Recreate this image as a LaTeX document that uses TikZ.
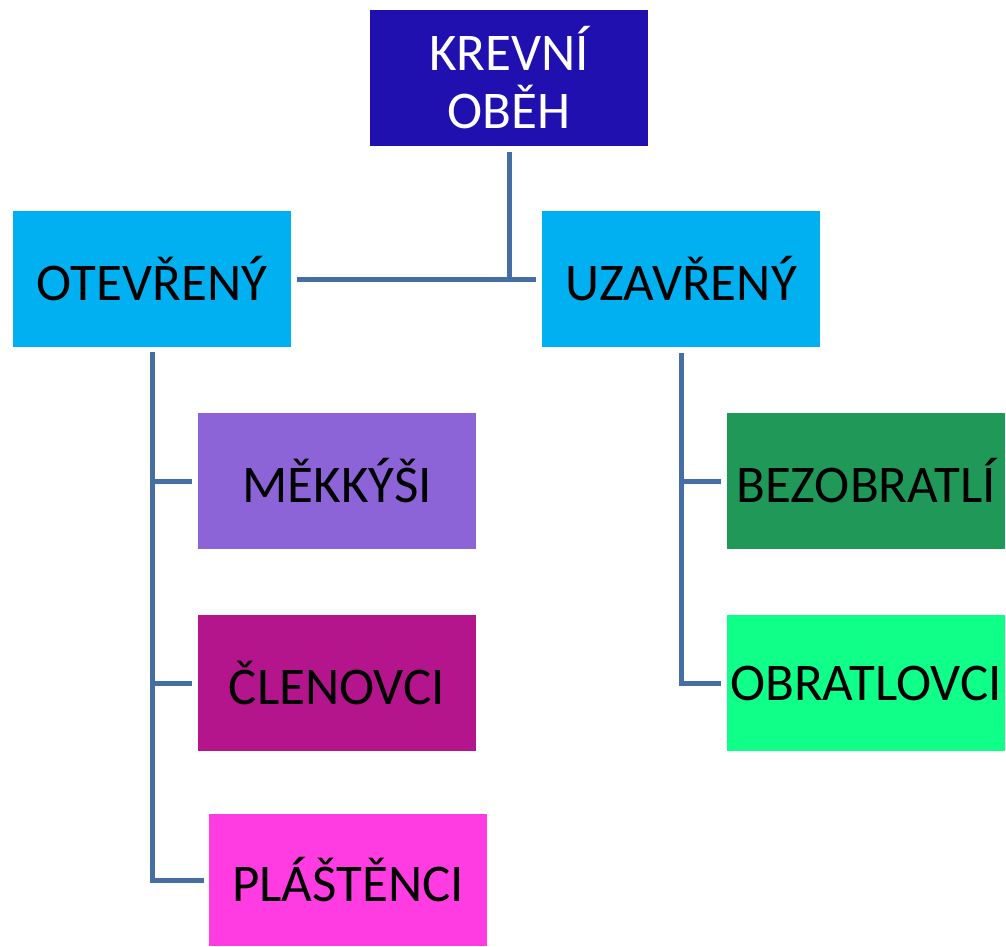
\documentclass[tikz,border=0pt]{standalone}
\usepackage{fontspec}
\setmainfont{Carlito}
\usetikzlibrary{positioning}
\definecolor{krevblue}{RGB}{32,16,176}
\definecolor{typecyan}{RGB}{0,176,240}
\definecolor{mekkviolet}{RGB}{140,100,216}
\definecolor{clenmagenta}{RGB}{180,20,140}
\definecolor{plastpink}{RGB}{255,60,225}
\definecolor{bezgreen}{RGB}{32,152,88}
\definecolor{obrgreen}{RGB}{16,255,136}
\definecolor{linkblue}{RGB}{68,110,164}

\begin{document}
\begin{tikzpicture}[x=1pt,y=-1pt,
    box/.style={minimum width=278pt,minimum height=136pt,inner sep=0pt,
        align=center,font=\fontsize{53}{58}\selectfont},
    link/.style={draw=linkblue,line width=5pt}]
    \useasboundingbox (0,0) rectangle (1006,946);

    % Top box
    \node[box,fill=krevblue,text=white] (krevni) at (509,78) {KREVNÍ\\OBĚH};

    % Two kinds
    \node[box,fill=typecyan] (otevreny) at (152,279) {OTEVŘENÝ};
    \node[box,fill=typecyan] (uzavreny) at (681,279) {UZAVŘENÝ};

    % Open circulation
    \node[box,fill=mekkviolet] (mekkysi) at (337,481) {MĚKKÝŠI};
    \node[box,fill=clenmagenta] (clenovci) at (337,683) {ČLENOVCI};
    \node[box,fill=plastpink,minimum height=132pt] (plastenci) at (348,880) {PLÁŠTĚNCI};

    % Closed circulation
    \node[box,fill=bezgreen] (bezobratli) at (866,481) {BEZOBRATLÍ};
    \node[box,fill=obrgreen] (obratlovci) at (866,683) {OBRATLOVCI};

    % Connectors
    \draw[link] ([yshift=-6pt]krevni.south) -- (krevni.south |- otevreny.east);
    \draw[link] ([xshift=6pt]otevreny.east) -- ([xshift=-6pt]uzavreny.west);

    \draw[link] ([yshift=-5pt]otevreny.south) |- ([xshift=-5pt]plastenci.west);
    \draw[link] (otevreny.south |- mekkysi.west) -- ([xshift=-6pt]mekkysi.west);
    \draw[link] (otevreny.south |- clenovci.west) -- ([xshift=-6pt]clenovci.west);

    \draw[link] ([yshift=-6pt]uzavreny.south) |- ([xshift=-6pt]obratlovci.west);
    \draw[link] (uzavreny.south |- bezobratli.west) -- ([xshift=-6pt]bezobratli.west);
\end{tikzpicture}
\end{document}
